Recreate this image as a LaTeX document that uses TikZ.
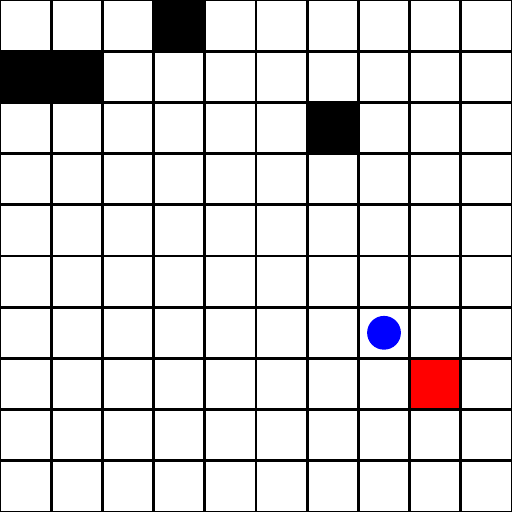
\documentclass[tikz,border=0pt]{standalone}
\usepackage{tikz}
\definecolor{wallblack}{HTML}{000000}
\definecolor{goalred}{HTML}{FF0000}
\definecolor{agentblue}{HTML}{0000FF}

\begin{document}
\begin{tikzpicture}[x=1cm, y=1cm]

% Canvas
\useasboundingbox (0, 0) rectangle (10, 10);
\clip (0, 0) rectangle (10, 10);
\fill[white] (0, 0) rectangle (10, 10);

% Wall cells
\fill[wallblack] (3, 9) rectangle (4, 10);
\fill[wallblack] (0, 8) rectangle (2, 9);
\fill[wallblack] (6, 7) rectangle (7, 8);

% Goal cell
\fill[goalred] (8, 2) rectangle (9, 3);

% Grid lines
\foreach \i in {0,...,10} {
  \draw[line width=1.6pt] (\i, 0) -- (\i, 10);
  \draw[line width=1.6pt] (0, \i) -- (10, \i);
}

% Agent
\fill[agentblue] (7.5, 3.5) circle (0.33);

\end{tikzpicture}
\end{document}
